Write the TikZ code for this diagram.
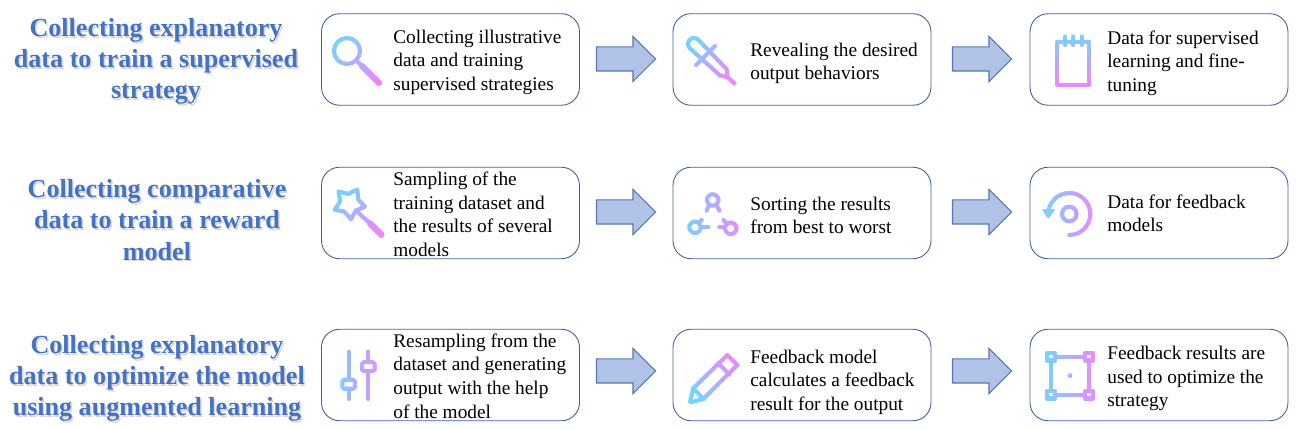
\documentclass[tikz,border=0pt]{standalone}
\usepackage{fontspec}
\setmainfont{Liberation Serif}
\usetikzlibrary{shapes.arrows}

\definecolor{headblue}{HTML}{4472C4}
\definecolor{boxline}{HTML}{3F60A0}
\definecolor{arrowfill}{HTML}{B0C3E6}
\definecolor{arrowline}{HTML}{5878B4}
\definecolor{iconblue}{HTML}{78D2FF}
\definecolor{iconpink}{HTML}{EC88FF}
\colorlet{iconcolor}{iconblue}

\tikzset{
	icon line/.style={draw=iconcolor, line width=0.082cm, line cap=round, line join=round},
	icon thick/.style={icon line, line width=0.125cm},
	stepbox/.style={draw=boxline, line width=0.5pt, rounded corners=0.36cm, minimum width=5.16cm, minimum height=1.83cm, outer sep=0pt},
	steptext/.style={anchor=west, align=left, inner sep=0pt, font=\fontsize{11}{13.4}\selectfont},
	headtext/.style={align=center, inner sep=0pt, text=headblue, font=\fontsize{14.85}{17.7}\selectfont\bfseries},
	headshadow/.style={headtext, text=black, opacity=0.16},
	flowarrow/.style={single arrow, draw=arrowline, fill=arrowfill, line width=0.6pt, inner sep=0.23cm, outer sep=0pt,
		minimum height=1.18cm, minimum width=0.88cm, single arrow head extend=0.21cm, single arrow tip angle=90}
}

% The nine icons, each around its own (0,0)
\newcommand{\iconglass}{
	\draw[icon line] (-10,9) circle (13);
	\draw[icon line] (0,-1) -- (5,-6);
	\draw[icon thick] (5,-6) -- (22,-23);
}
\newcommand{\icondropper}{
	\draw[icon line] (-20.2,11.8) arc (225:45:6) -- (16.7,-9.3) -- (17.5,-17) -- (10,-15.5) -- cycle;
	\draw[icon line] (-14,-5) -- (5,14);
	\draw[icon line] (17.5,-17) -- (25,-24);
}
\newcommand{\iconnote}{
	\draw[icon line] (-16,17.7) rectangle (16,-25);
	\foreach \ringx in {-8.3,0,8.3}
		\draw[icon line] (\ringx,23.3) -- (\ringx,15);
}
\newcommand{\iconwand}{
	\draw[icon line] (-1,22.2) -- (-10,17.8) -- (-19.7,20.2) -- (-18.2,10.4) -- (-23.6,1.8) -- (-14,0.2) -- (-7.3,-7.6) -- (-2.5,1.2) -- (6.6,5) -- (0,12) -- cycle;
	\draw[icon line] (-2.5,1.2) -- (11.7,-11.7);
	\draw[icon thick] (11.7,-11.7) -- (23.3,-23.3);
}
\newcommand{\iconnet}{
	% top ring
	\draw[icon line] (0,15) circle (5.7);
	\draw[icon line] (-3.5,10.5) -- (-6,4.3);
	\draw[icon line] (3.5,10.5) -- (6.7,4.3);
	% left ring
	\draw[icon line] (-17.7,-12.3) circle (5.7);
	\draw[icon line] (-14,-8) -- (-11,-5);
	\draw[icon line] (-12,-12.3) -- (-4.3,-12.3);
	% right ring
	\draw[icon line] (18,-13.3) circle (5.7);
	\draw[icon line] (12.3,-12.3) -- (6.7,-12.3);
	\draw[icon line] (14,-9) -- (10.7,-5);
}
\newcommand{\iconturn}{
	\draw[icon line] (0,0) circle (7.3);
	\draw[icon line] (0,-21) arc (-90:180:21);
	\fill[iconcolor, draw=iconcolor, line join=round, line width=0.03cm] (-26,4) -- (-15.3,4) -- (-21,-3.7) -- cycle;
}
\newcommand{\iconslider}{
	\draw[icon line] (-9.7,23.3) -- (-9.7,-4.8);
	\draw[icon line] (-9.7,-13.8) -- (-9.7,-24);
	\draw[icon line, rounded corners=1pt] (-16,-4.8) rectangle (-3.4,-13.8);
	\draw[icon line] (10,23.3) -- (10,12.8);
	\draw[icon line] (10,3.8) -- (10,-24);
	\draw[icon line, rounded corners=1pt] (3.7,12.8) rectangle (16.3,3.8);
}
\newcommand{\iconpencil}{
	\draw[icon line] (14,23.3) -- (24,13.3) -- (-10,-20.7) -- (-23.3,-24) -- (-20,-10) -- cycle;
	\draw[icon line] (-20,-10) -- (-10,-20.7);
	\draw[icon line] (5,15) -- (16,4);
}
\newcommand{\iconframe}{
	\draw[icon line] (-15,19) -- (15,19);
	\draw[icon line] (-15,-19) -- (15,-19);
	\draw[icon line] (-19,15) -- (-19,-15);
	\draw[icon line] (19,15) -- (19,-15);
	\foreach \cornerx in {-19,19}
		\foreach \cornery in {-19,19}
			\draw[icon line] (\cornerx-3.8,\cornery-3.8) rectangle (\cornerx+3.8,\cornery+3.8);
	\fill[iconcolor] (0,0) circle (2.4);
}

% Draws one icon in thin clipped strips to get the gradient: {icon}{x}{y}{angle}
\newcommand{\placeicon}[4]{
	\begin{scope}[shift={(#2,#3)}]
	\foreach \slice in {0,...,27}{
		\pgfmathsetmacro{\mixval}{min(100,max(0,(\slice*2.5-9)*100/52))}
		\colorlet{iconcolor}{iconpink!\mixval!iconblue}
		\begin{scope}
			\clip[rotate=#4] (-40,\slice*2.5-35) rectangle (40,\slice*2.5-32);
			#1
		\end{scope}
	}
	\end{scope}
}

\begin{document}
\begin{tikzpicture}[x=0.02cm, y=0.02cm]

\useasboundingbox (0,0) rectangle (1296,429);

% Writes the three headings on the left, with a soft copy behind each one
\node[headshadow] at (157.5,366) {Collecting explanatory\\data to train a supervised\\strategy};
\node[headtext] (headA) at (156,367.5) {Collecting explanatory\\data to train a supervised\\strategy};
\node[headshadow] at (158.5,207.5) {Collecting comparative\\data to train a reward\\model};
\node[headtext] (headB) at (157,209) {Collecting comparative\\data to train a reward\\model};
\node[headshadow] at (158.5,49) {Collecting explanatory\\data to optimize the model\\using augmented learning};
\node[headtext] (headC) at (157,50.5) {Collecting explanatory\\data to optimize the model\\using augmented learning};

% Draws the nine rounded boxes
\node[stepbox] (boxA) at (450.5,369.5) {};
\node[stepbox] (boxB) at (802,369.5) {};
\node[stepbox] (boxC) at (1159,369.5) {};
\node[stepbox] (boxD) at (450.5,216) {};
\node[stepbox] (boxE) at (802,216) {};
\node[stepbox] (boxF) at (1159,216) {};
\node[stepbox] (boxG) at (450.5,54) {};
\node[stepbox] (boxH) at (802,54) {};
\node[stepbox] (boxI) at (1159,54) {};

% Writes out the text of each box
\node[steptext] (textA) at (393,367) {Collecting illustrative\\data and training\\supervised strategies};
\node[steptext] (textB) at (750,365.5) {Revealing the desired\\output behaviors};
\node[steptext] (textC) at (1107,366) {Data for supervised\\learning and fine-\\tuning};
\node[steptext] (textD) at (393,214.5) {Sampling of the\\training dataset and\\the results of several\\models};
\node[steptext] (textE) at (750,213.5) {Sorting the results\\from best to worst};
\node[steptext] (textF) at (1107,215.5) {Data for feedback\\models};
\node[steptext] (textG) at (393,53) {Resampling from the\\dataset and generating\\output with the help\\of the model};
\node[steptext] (textH) at (750,47) {Feedback model\\calculates a feedback\\result for the output};
\node[steptext] (textI) at (1107,50.5) {Feedback results are\\used to optimize the\\strategy};

% Draws the block arrows between the boxes
\node[flowarrow] (arrowA) at (620,370) {};
\node[flowarrow] (arrowB) at (976,370) {};
\node[flowarrow] (arrowC) at (620,217) {};
\node[flowarrow] (arrowD) at (976,217) {};
\node[flowarrow] (arrowE) at (620,58) {};
\node[flowarrow] (arrowF) at (976,58) {};

% Places the gradient icons
\placeicon{\iconglass}{357}{369}{-135}
\placeicon{\icondropper}{710}{369}{-135}
\placeicon{\iconnote}{1073.3}{369}{180}
\placeicon{\iconwand}{358.3}{217.3}{-135}
\placeicon{\iconnet}{712.7}{214}{-90}
\placeicon{\iconturn}{1069.3}{215}{-90}
\placeicon{\iconslider}{358.3}{54}{-90}
\placeicon{\iconpencil}{713.3}{50.7}{-45}
\placeicon{\iconframe}{1070}{53.3}{-90}

\end{tikzpicture}
\end{document}
